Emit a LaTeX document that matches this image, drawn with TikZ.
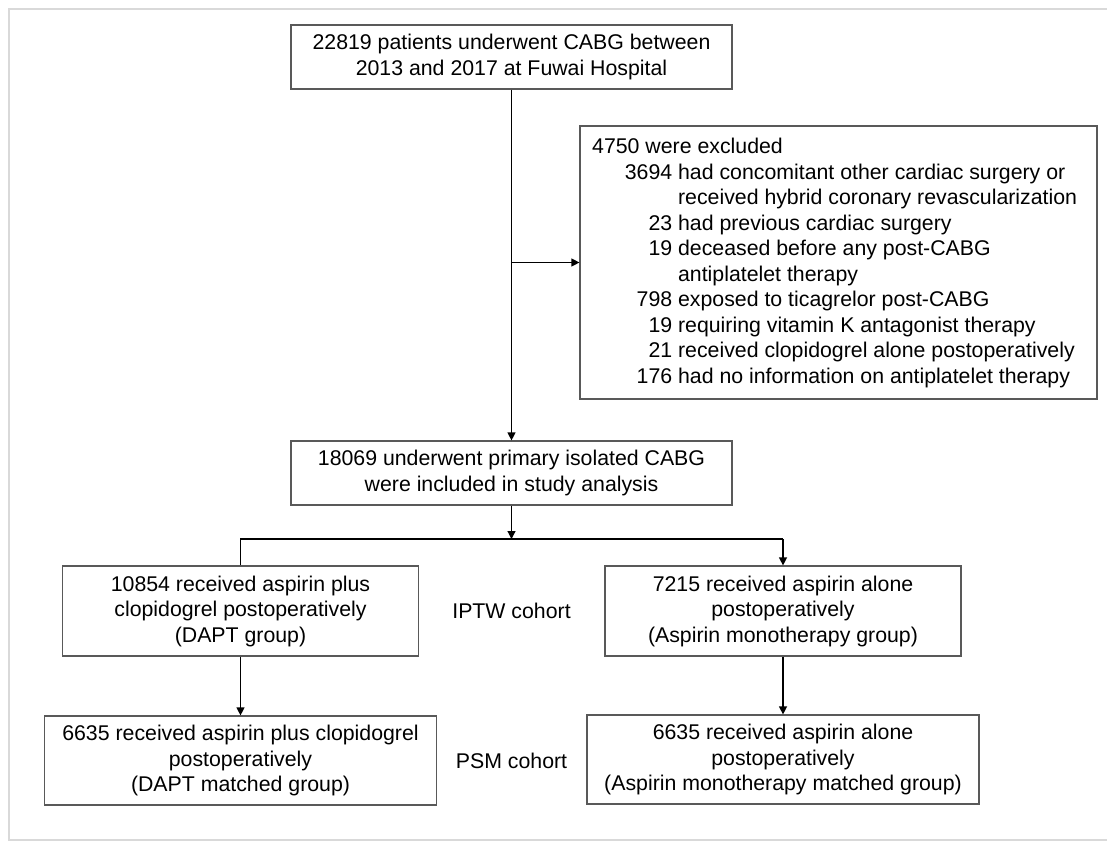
\documentclass[tikz,border=0pt]{standalone}
\usepackage{fontspec}
\setmainfont{Liberation Sans}
\usetikzlibrary{arrows.meta}
\newcommand{\exitem}[2]{\makebox[80pt][r]{#1}~#2}
\newcommand{\excont}[1]{\hspace*{85.9pt}#1}
\begin{document}
\begin{tikzpicture}[x=1pt,y=-1pt,
  txt/.style={font=\fontsize{21.3}{25.5}\selectfont},
  box/.style={txt, draw=black!65, line width=1.2pt, align=center, inner sep=0pt},
  lbl/.style={txt, inner sep=0pt},
  conn/.style={line width=1.2pt, draw=black},
  arr/.style={conn, -{Triangle[length=8pt,width=8pt]}}]
\useasboundingbox (0,0) rectangle (1107,841);
\draw[black!15, line width=1.5pt] (1130,9) -- (9,9) -- (9,840) -- (1130,840);
% boxes
\node[box, minimum width=441pt, minimum height=64pt] (top) at (511.5,57)
  {22819 patients underwent CABG between\\2013 and 2017 at Fuwai Hospital};
\node[box, minimum width=517pt, minimum height=273pt] (excl) at (838.5,262.5) {};
\node[lbl, align=left, anchor=west] (excltext) at (592,263) {4750 were excluded\\
  \exitem{3694}{had concomitant other cardiac surgery or}\\
  \excont{received hybrid coronary revascularization}\\
  \exitem{23}{had previous cardiac surgery}\\
  \exitem{19}{deceased before any post-CABG}\\
  \excont{antiplatelet therapy}\\
  \exitem{798}{exposed to ticagrelor post-CABG}\\
  \exitem{19}{requiring vitamin K antagonist therapy}\\
  \exitem{21}{received clopidogrel alone postoperatively}\\
  \exitem{176}{had no information on antiplatelet therapy}};
\node[box, minimum width=441pt, minimum height=64pt] (mid) at (511.5,473)
  {18069 underwent primary isolated CABG\\were included in study analysis};
\node[box, minimum width=356pt, minimum height=90pt] (lb1) at (240.5,611)
  {10854 received aspirin plus\\clopidogrel postoperatively\\(DAPT group)};
\node[box, minimum width=356pt, minimum height=90pt] (rb1) at (783,611)
  {7215 received aspirin alone\\postoperatively\\(Aspirin monotherapy group)};
\node[box, minimum width=392pt, minimum height=89pt] (lb2) at (240.5,760.5)
  {6635 received aspirin plus clopidogrel\\postoperatively\\(DAPT matched group)};
\node[box, minimum width=392pt, minimum height=89pt] (rb2) at (783,759.5)
  {6635 received aspirin alone\\postoperatively\\(Aspirin monotherapy matched group)};
\node[lbl] (iptw) at (511.5,611) {IPTW cohort};
\node[lbl] (psm) at (511.5,761) {PSM cohort};
% connectors
\coordinate (junc) at (511.5,539);
\draw[arr] (top.south) -- (mid.north);
\draw[arr] (top.south |- excl.west) -- (excl.west);
\draw[arr] (mid.south) -- (junc);
\draw[conn] (lb1.north) -- (lb1.north |- junc) -- (rb1.north |- junc);
\draw[arr] (rb1.north |- junc) -- (rb1.north);
\draw[arr] (lb1.south) -- (lb2.north);
\draw[arr] (rb1.south) -- (rb2.north);
\end{tikzpicture}
\end{document}
